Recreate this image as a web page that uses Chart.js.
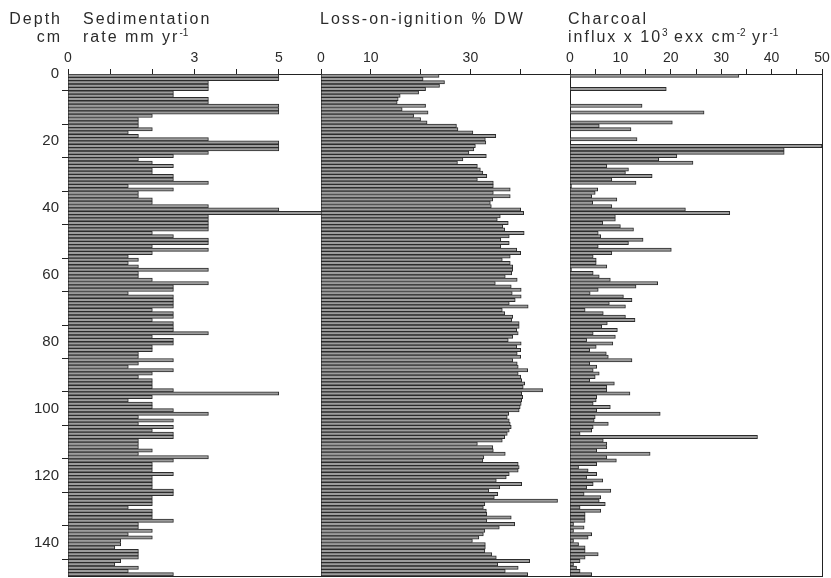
<!DOCTYPE html>
<html>
<head>
<meta charset="utf-8">
<script src="https://cdn.jsdelivr.net/npm/chart.js@4.4.1/dist/chart.umd.min.js"></script>
<style>
  html, body { margin: 0; padding: 0; background: #fff; }
  #wrap { position: relative; width: 831px; height: 578px; overflow: hidden; }
  #wrap canvas { position: absolute; left: 0; top: 0; }
  .hd { position: absolute; font-family: "Liberation Sans", Arial, sans-serif; font-size: 16px;
        line-height: 18px; letter-spacing: 2px; color: #2b2b2b; white-space: nowrap; }
  .hd sup { font-size: 10px; line-height: 0; vertical-align: 6px; letter-spacing: 0; }
</style>
</head>
<body>
<div id="wrap">
  <canvas id="c-sed" width="831" height="578"></canvas>
  <canvas id="c-loi" width="831" height="578"></canvas>
  <canvas id="c-char" width="831" height="578"></canvas>
  <div class="hd" style="left:6px;top:10px;text-align:right;width:56px">Depth<br>cm</div>
  <div class="hd" style="left:83px;top:10px">Sedimentation<br>rate mm yr<sup>-1</sup></div>
  <div class="hd" style="left:320px;top:10px">Loss-on-ignition % DW</div>
  <div class="hd" style="left:568px;top:10px">Charcoal<br>influx x 10<sup>3</sup> exx cm<sup>-2</sup> yr<sup>-1</sup></div>
</div>
<script>
"use strict";

// depth of the top of each 1 cm slice, 0..149
var DEPTHS = [];
for (var i = 0; i < 150; i++) DEPTHS.push(i);

// sedimentation rate, mm/yr
var SED_RATE = [
  5, 5, 3.33, 3.33, 3.33, 2.5, 2.5, 3.33, 3.33, 5,
  5, 5, 2, 1.67, 1.67, 1.67, 2, 1.43, 1.67, 3.33,
  5, 5, 5, 3.33, 2.5, 1.67, 2, 2.5, 2, 2,
  2.5, 2.5, 3.33, 1.43, 2.5, 1.67, 1.67, 2, 2, 3.33,
  5, 10, 3.33, 3.33, 3.33, 3.33, 3.33, 2, 2.5, 3.33,
  3.33, 2, 3.33, 2, 1.43, 1.67, 1.43, 1.67, 3.33, 1.67,
  1.67, 2, 3.33, 2.5, 2.5, 1.43, 2.5, 2.5, 2.5, 2.5,
  2, 2.5, 2.5, 2, 2.5, 2.5, 2.5, 3.33, 2, 2.5,
  2.5, 2, 2, 1.67, 1.67, 2.5, 1.67, 1.43, 2.5, 2,
  1.67, 2, 2, 2, 2.5, 5, 2, 1.43, 2, 2,
  2.5, 3.33, 1.67, 2.5, 1.67, 2.5, 2, 2.5, 2.5, 1.67,
  1.67, 1.67, 2, 1.67, 3.33, 2.5, 2, 2, 2, 2.5,
  2, 2, 2, 2, 2.5, 2.5, 2, 2, 2, 1.43,
  2, 2, 2, 2.5, 1.67, 1.67, 2, 1.43, 2, 1.25,
  1.25, 1.11, 1.67, 1.67, 1.67, 1.25, 1.11, 1.67, 1.43, 2.5
];

// loss-on-ignition, % dry weight
var LOI = [
  23.7, 20.5, 24.8, 23.8, 21, 19.6, 15.9, 15.5, 15.3, 21,
  16.3, 21.5, 18.6, 20, 21.3, 27.2, 27.5, 30.5, 35.1, 33,
  33.1, 31, 30.7, 29.7, 33.2, 28.5, 27.4, 31.4, 32, 32.5,
  33.3, 31.4, 34.6, 34.6, 38, 34.6, 38, 34.5, 34, 34.2,
  40.1, 40.7, 36, 35.4, 37.6, 36.5, 36.9, 40.8, 37.8, 36.1,
  37.8, 36.1, 39.3, 40.1, 38, 36.4, 38, 38.5, 38.5, 38.3,
  37, 39.4, 35, 38.2, 40.2, 38.4, 40.2, 39, 37.8, 41.6,
  36.4, 36.9, 38.5, 38.3, 39.8, 39.8, 39.3, 39.6, 38.5, 37.6,
  40.2, 39.3, 40.1, 39.4, 40.1, 38.5, 39.4, 39.6, 41.5, 39.6,
  40.1, 40.3, 40.9, 40.6, 44.5, 40.3, 40.5, 40.3, 40.2, 40,
  39.8, 37.7, 37.4, 37.8, 38, 38.2, 37.8, 37.4, 36.9, 36.4,
  31.4, 34.5, 34.6, 37, 32.7, 32.5, 39.6, 39.8, 39.6, 37.8,
  37.2, 35.2, 40.3, 35.9, 33.7, 35.5, 34.8, 47.5, 32.9, 32.6,
  33.2, 33.3, 38.2, 33.3, 38.9, 35.8, 32.9, 32.6, 31.7, 30.4,
  33, 33, 32.9, 34.3, 35.2, 41.9, 35.5, 39.6, 37, 41.5
];

// charcoal influx, x10^3 per cm2 per yr
var CHARCOAL = [
  33.5, 0, 0, 0, 19.1, 0, 0, 0, 0, 14.3,
  0, 26.6, 0, 0, 20.3, 5.8, 12.1, 0, 0, 13.3,
  0, 50, 42.5, 42.5, 21.2, 17.6, 24.4, 7.3, 11.6, 11,
  16.3, 8.3, 13.1, 0.3, 5.5, 5, 4.3, 9.3, 4.5, 8.3,
  22.9, 31.7, 9, 9, 6.5, 10, 12.6, 5.6, 6.1, 14.5,
  11.6, 5.6, 20.1, 8.3, 4.6, 5.2, 5.2, 7.3, 0.3, 4.6,
  5.8, 8, 17.4, 13.1, 5.6, 4, 10.6, 12.3, 7.8, 11,
  3, 6.6, 11, 12.9, 7.4, 6.3, 9.4, 4.6, 9, 3.3,
  8.5, 5.2, 3.9, 7.2, 7.6, 12.3, 3.9, 5.3, 4.6, 5.8,
  5, 3.9, 8.8, 7.3, 7.3, 11.9, 5.3, 5.2, 4.6, 8,
  5.3, 17.9, 5, 4.8, 7.6, 4.6, 4.3, 2, 37.2, 6.6,
  7.3, 7.3, 5.3, 15.9, 7.3, 9.2, 5.3, 1.7, 3.6, 5.3,
  3.3, 6.5, 4.6, 3.3, 8.1, 2.8, 6.1, 5.8, 7, 2,
  6.1, 3, 3, 3, 0.7, 2.8, 0.7, 4.3, 3.6, 0.7,
  1.7, 3, 3, 5.6, 3, 2, 0.7, 1.3, 2, 4.3
];

// top-axis tick labels that are actually printed
var SED_TICK_LABELS = [0, 3, 5];
var LOI_TICK_LABELS = [0, 10, 30];
var CHAR_TICK_LABELS = [0, 10, 20, 30, 40, 50];
var DEPTH_TICK_LABELS = [0, 20, 40, 60, 80, 100, 120, 140];

var INK = "#222";
var FONT = "'Liberation Sans', Arial, sans-serif";

// fixed-size axes, and no label overhang pushing the plot area around
function fixSize(w, h) {
  return function (s) {
    if (w != null) s.width = w;
    if (h != null) s.height = h;
    s.paddingTop = 0; s.paddingBottom = 0; s.paddingLeft = 0; s.paddingRight = 0;
  };
}

function borderOnly(pos, extra) {
  var s = {
    type: "linear", position: pos, display: true, offset: false,
    ticks: { display: false },
    grid: { display: false },
    border: { display: true, color: INK, width: 1 }
  };
  return Object.assign(s, extra);
}

function makePanel(id, values, o) {
  var scales = {
    x: {
      type: "linear", position: "top", min: 0, max: o.xMax, offset: false,
      ticks: {
        stepSize: o.step, autoSkip: false, maxRotation: 0, padding: 2,
        color: "#2b2b2b", font: { family: FONT, size: 14 },
        callback: function (v) { return o.labels.indexOf(v) >= 0 ? String(v) : ""; }
      },
      grid: { display: true, drawOnChartArea: false, drawTicks: true, tickLength: 5, color: INK },
      border: { display: true, color: INK, width: 1 },
      afterFit: fixSize(null, 26)
    },
    y: {
      type: "linear", position: "left", min: 0, max: 150, reverse: true, offset: false,
      ticks: {
        display: o.depthAxis, stepSize: 10, autoSkip: false, padding: 3,
        color: "#2b2b2b", font: { family: FONT, size: 15 },
        callback: function (v) { return DEPTH_TICK_LABELS.indexOf(v) >= 0 ? String(v) : ""; }
      },
      grid: { display: o.depthAxis, drawOnChartArea: false, drawTicks: true, tickLength: 6, color: INK },
      border: { display: true, color: INK, width: 1 },
      afterFit: fixSize(o.depthAxis ? 68 : 0, null)
    },
    xb: borderOnly("bottom", { min: 0, max: o.xMax, afterFit: fixSize(null, 0) })
  };
  if (o.rightBorder) {
    scales.yr = borderOnly("right", { min: 0, max: 150, afterFit: fixSize(0, null) });
  }

  return new Chart(document.getElementById(id), {
    type: "bar",
    data: {
      datasets: [{
        data: values.map(function (v, i) { return { x: v, y: DEPTHS[i] + 0.5 }; }),
        backgroundColor: "#9c9c9c",
        borderColor: "#2c2c2c",
        borderWidth: 1,
        categoryPercentage: 1,
        barPercentage: 1,
        clip: 0
      }]
    },
    options: {
      indexAxis: "y",
      responsive: false,
      animation: false,
      events: [],
      layout: { padding: o.padding },
      scales: scales,
      plugins: { legend: { display: false }, tooltip: { enabled: false } }
    }
  });
}

makePanel("c-sed", SED_RATE, {
  xMax: 6, step: 1, labels: SED_TICK_LABELS, depthAxis: true,
  padding: { left: 0, right: 510, top: 48, bottom: 2 }
});
makePanel("c-loi", LOI, {
  xMax: 50, step: 10, labels: LOI_TICK_LABELS, depthAxis: false,
  padding: { left: 321, right: 261, top: 48, bottom: 2 }
});
makePanel("c-char", CHARCOAL, {
  xMax: 50, step: 5, labels: CHAR_TICK_LABELS, depthAxis: false, rightBorder: true,
  padding: { left: 570, right: 9, top: 48, bottom: 2 }
});
</script>
</body>
</html>
